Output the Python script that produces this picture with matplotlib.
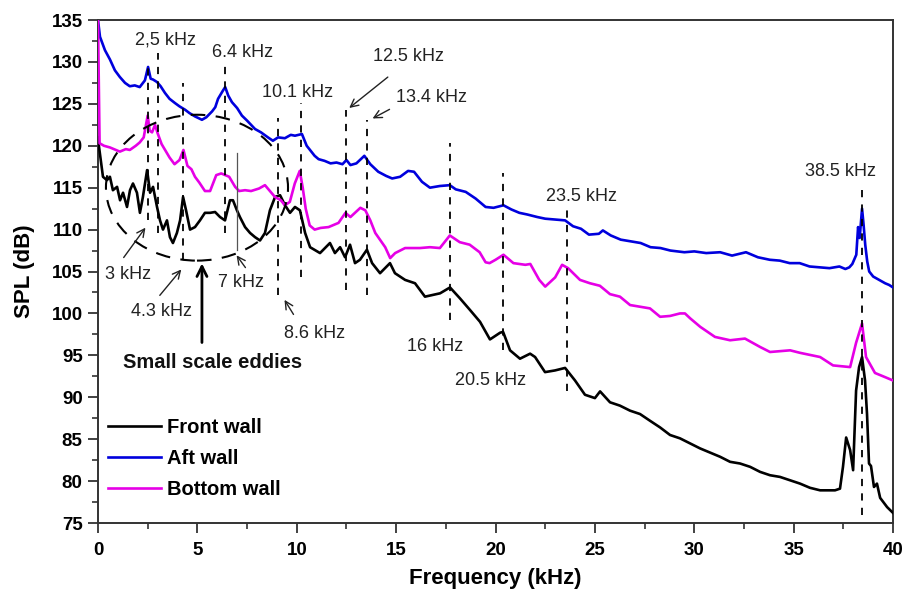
import matplotlib
matplotlib.use("Agg")
import matplotlib.pyplot as plt
from matplotlib.patches import Ellipse

plt.rcParams['font.family'] = ['Liberation Sans', 'DejaVu Sans']

# ---- spectra (frequency in kHz, SPL in dB) ----
aft_f = [0.0, 0.1, 0.35, 0.6, 0.85, 1.1, 1.36, 1.6, 1.85, 2.1, 2.36, 2.52, 2.65, 2.77, 2.97,
         3.15, 3.37, 3.6, 3.87, 4.1, 4.38, 4.6, 4.88, 5.23, 5.45, 5.74, 5.9, 6.04, 6.29, 6.4,
         6.55, 6.74, 7.0, 7.24, 7.5, 7.9, 8.2, 8.55, 8.8, 9.06, 9.4, 9.7, 9.91, 10.26, 10.5,
         10.9, 11.1, 11.4, 11.7, 12.0, 12.3, 12.5, 12.7, 13.0, 13.4, 13.7, 14.1, 14.5, 14.8,
         15.2, 15.6, 15.9, 16.3, 16.7, 17.2, 17.7, 18.0, 18.5, 19.0, 19.5, 19.9, 20.4, 20.8,
         21.2, 21.6, 22.1, 22.5, 23.0, 23.5, 23.9, 24.3, 24.7, 25.2, 25.4, 25.8, 26.3, 26.8,
         27.3, 27.8, 28.3, 28.8, 29.5, 30.0, 30.6, 31.3, 31.9, 32.6, 33.2, 33.8, 34.3, 34.8,
         35.3, 35.8, 36.3, 36.8, 37.3, 37.6, 37.8, 37.95, 38.15, 38.24, 38.32, 38.44, 38.52,
         38.6, 38.7, 38.8, 39.0, 39.3, 39.6, 39.8, 40.0]
aft_spl = [135.0, 133.0, 131.4, 130.3, 129.0, 128.2, 127.5, 127.1, 127.2, 127.0, 127.8, 129.4,
           128.0, 127.9, 127.6, 127.1, 126.3, 125.6, 125.1, 124.7, 124.3, 123.9, 123.5, 123.1,
           123.4, 124.1, 124.6, 125.6, 126.6, 127.0, 126.0, 125.2, 124.5, 123.6, 123.0, 122.0,
           121.6, 121.0, 120.6, 121.0, 120.9, 121.3, 121.2, 121.4, 120.0, 118.8, 118.4, 118.2,
           117.9, 118.0, 117.8, 118.3, 117.7, 117.9, 118.8, 117.8, 116.9, 116.4, 116.1, 116.3,
           117.0, 116.9, 115.7, 115.0, 115.2, 115.3, 114.8, 114.5, 113.7, 112.7, 112.6, 112.9,
           112.4, 112.0, 111.8, 111.5, 111.3, 111.2, 111.1, 110.4, 110.1, 109.4, 109.5, 109.9,
           109.3, 108.8, 108.6, 108.4, 107.9, 107.8, 107.5, 107.3, 107.4, 107.2, 107.3, 106.9,
           107.3, 106.7, 106.4, 106.3, 106.0, 106.0, 105.6, 105.5, 105.4, 105.6, 105.3, 105.5,
           105.9, 107.0, 110.3, 109.0, 112.5, 110.5, 108.2, 106.2, 105.0, 104.4, 104.0, 103.6,
           103.4, 103.1]

bottom_f = [0.0, 0.08, 0.3, 0.6, 0.9, 1.1, 1.4, 1.6, 1.9, 2.1, 2.3, 2.5, 2.6, 2.72, 2.87, 3.0,
            3.2, 3.4, 3.6, 3.85, 4.1, 4.3, 4.5, 4.7, 4.88, 5.1, 5.38, 5.64, 5.95, 6.2, 6.6, 6.9,
            7.1, 7.4, 7.7, 8.1, 8.4, 8.65, 8.9, 9.2, 9.4, 9.65, 9.9, 10.15, 10.3, 10.45, 10.65,
            10.9, 11.2, 11.6, 12.1, 12.45, 12.7, 13.2, 13.45, 13.7, 13.95, 14.45, 14.7, 14.95,
            15.45, 16.2, 16.7, 17.2, 17.7, 18.2, 18.7, 19.2, 19.5, 19.7, 20.0, 20.4, 20.9, 21.5,
            21.75, 22.2, 22.5, 23.0, 23.35, 23.65, 24.25, 24.75, 25.25, 25.76, 26.26, 26.77,
            27.27, 27.77, 28.28, 28.78, 29.28, 29.53, 29.8, 30.3, 31.04, 31.8, 32.55, 33.31,
            33.81, 34.82, 35.32, 36.33, 36.98, 37.84, 38.14, 38.44, 38.64, 39.09, 39.6, 40.0]
bottom_spl = [135.0, 120.3, 120.0, 119.8, 119.5, 119.3, 119.6, 119.5, 120.0, 120.4, 121.0, 123.6,
              121.8, 121.6, 122.5, 121.5, 120.2, 119.4, 118.6, 117.8, 118.3, 119.5, 117.6,
              117.2, 116.3, 115.6, 114.6, 114.6, 116.5, 116.7, 116.3, 115.1, 114.6, 114.7,
              114.6, 114.9, 115.3, 114.6, 113.9, 113.5, 112.9, 113.3, 115.5, 117.0, 115.0, 112.5,
              110.5, 110.0, 110.2, 110.3, 110.8, 112.0, 111.5, 112.6, 112.3, 111.1, 109.6,
              107.9, 106.6, 107.2, 107.8, 107.8, 107.9, 107.8, 109.3, 108.5, 108.2, 107.3,
              106.1, 106.0, 106.4, 107.0, 106.0, 105.8, 105.9, 104.0, 103.2, 104.3, 105.8,
              105.4, 104.0, 103.6, 103.3, 102.3, 102.0, 101.0, 100.8, 100.6, 99.6, 99.7, 100.0,
              100.0, 99.4, 98.4, 97.2, 96.8, 97.0, 96.0, 95.4, 95.6, 95.3, 94.8, 93.8, 93.6,
              96.5, 98.8, 94.8, 92.9, 92.4, 92.0]

front_f = [0.0, 0.05, 0.25, 0.45, 0.6, 0.75, 0.96, 1.11, 1.26, 1.46, 1.61, 1.76, 1.96, 2.11,
           2.26, 2.47, 2.62, 2.77, 2.97, 3.12, 3.27, 3.47, 3.62, 3.77, 3.97, 4.13, 4.28, 4.43,
           4.63, 4.88, 5.13, 5.38, 5.64, 5.89, 6.14, 6.39, 6.64, 6.79, 6.99, 7.14, 7.40, 7.65,
           7.90, 8.15, 8.40, 8.65, 8.91, 9.16, 9.41, 9.66, 9.91, 10.16, 10.42, 10.67, 11.17,
           11.67, 11.92, 12.18, 12.43, 12.68, 12.93, 13.18, 13.53, 13.79, 14.19, 14.69, 14.94,
           15.45, 15.95, 16.45, 17.21, 17.71, 18.21, 18.72, 19.22, 19.72, 20.23, 20.38, 20.73,
           21.23, 21.74, 21.99, 22.49, 22.99, 23.5, 24.0, 24.5, 25.0, 25.26, 25.76, 26.26,
           26.77, 27.27, 27.77, 28.28, 28.78, 29.28, 29.79, 30.29, 30.79, 31.30, 31.80, 32.30,
           32.81, 33.31, 33.81, 34.31, 34.82, 35.32, 35.82, 36.33, 37.08, 37.33, 37.48, 37.64,
           37.84, 37.99, 38.14, 38.29, 38.44, 38.59, 38.69, 38.79, 38.89, 39.04, 39.19, 39.35,
           39.70, 40.0]
front_spl = [121.0, 119.9, 116.3, 115.9, 116.3, 114.7, 115.1, 113.5, 114.4, 112.7, 114.7, 115.5,
             114.4, 112.0, 113.9, 117.1, 114.4, 115.1, 112.7, 111.1, 110.0, 111.1, 109.1, 108.4,
             109.6, 111.1, 113.9, 112.3, 110.0, 110.3, 111.1, 112.0, 112.0, 112.1, 111.5, 111.1,
             113.5, 113.5, 112.3, 111.5, 110.3, 109.6, 109.1, 108.7, 109.6, 112.3, 113.9, 114.1,
             112.9, 112.0, 112.7, 112.3, 109.6, 107.9, 107.2, 108.4, 107.2, 107.9, 106.7, 108.2,
             106.0, 106.4, 107.6, 106.0, 104.8, 106.0, 104.8, 104.0, 103.6, 102.0, 102.4, 103.1,
             101.8, 100.4, 99.0, 96.9, 97.7, 97.8, 95.6, 94.6, 95.2, 94.8, 93.0, 93.2, 93.5,
             92.0, 90.3, 89.9, 90.7, 89.4, 89.0, 88.4, 88.0, 87.2, 86.4, 85.5, 85.1, 84.5, 83.9,
             83.4, 82.9, 82.3, 82.1, 81.7, 81.1, 80.7, 80.5, 80.1, 79.7, 79.2, 78.9, 78.9, 79.1,
             81.7, 85.2, 83.7, 81.3, 90.8, 93.6, 94.8, 92.0, 88.0, 82.1, 81.8, 79.3, 79.7, 78.0,
             76.9, 76.2]

series_labels = ["Front wall", "Aft wall", "Bottom wall"]
series_colors = ["#000000", "#0000dd", "#e600e6"]

# ---- annotations ----
# dashed guides: (frequency, upper end, lower end)
guides = [(2.5, 129.9, 111.1), (3.0, 131.1, 109.6), (4.3, 127.5, 106.4), (6.4, 129.9, 109.6),
          (9.05, 123.3, 102.2), (10.2, 125.1, 104.3), (12.5, 124.3, 102.8), (13.55, 123.1, 102.2),
          (17.7, 120.3, 99.2), (20.4, 116.7, 95.6), (23.6, 112.3, 90.8), (38.45, 114.7, 75.9)]
labels_plain = [("2,5 kHz", 3.42, 132.6), ("6.4 kHz", 7.25, 131.1), ("10.1 kHz", 10.06, 126.3),
                ("12.5 kHz", 15.6, 130.6), ("13.4 kHz", 16.8, 125.7), ("23.5 kHz", 24.35, 113.9),
                ("38.5 kHz", 37.38, 116.9), ("3 kHz", 1.51, 104.6), ("4.3 kHz", 3.22, 100.2),
                ("7 kHz", 7.2, 103.7), ("8.6 kHz", 10.92, 97.6), ("16 kHz", 16.96, 96.0),
                ("20.5 kHz", 19.77, 92.0)]
# arrows: (tail f, tail SPL, head f, head SPL)
arrows = [(14.69, 128.4, 12.53, 124.3), (14.79, 124.5, 13.69, 123.1),
          (1.21, 106.4, 2.47, 110.5), (3.02, 101.9, 4.28, 105.5),
          (7.5, 105.2, 6.89, 107.2), (9.91, 99.6, 9.31, 101.9)]

fig = plt.figure(figsize=(9.04, 5.94), dpi=100)
ax = fig.add_axes([0.1084, 0.1195, 0.8795, 0.8468])

for f, s, lab, col in [(front_f, front_spl, series_labels[0], series_colors[0]),
                       (aft_f, aft_spl, series_labels[1], series_colors[1]),
                       (bottom_f, bottom_spl, series_labels[2], series_colors[2])]:
    ax.plot(f, s, color=col, lw=1.9, label=lab, zorder=3)

for x, top, bot in guides:
    ax.plot([x, x], [bot, top], color="black", lw=1.3, ls=(0, (4, 4)), zorder=4)
# thin marker at 7 kHz
ax.plot([7.0, 7.0], [107.6, 119.1], color="#555555", lw=0.9, zorder=4)

ell = Ellipse((4.98, 115.0), 9.16, 17.4, fill=False, ec="black", lw=1.5,
              ls=(0, (7, 5)), zorder=4)
ax.add_patch(ell)

for txt, x, y in labels_plain:
    ax.text(x, y, txt, ha="center", va="center", fontsize=13, color="#222222", zorder=5)

for tx, ty, hx, hy in arrows:
    ax.annotate("", xy=(hx, hy), xytext=(tx, ty),
                arrowprops=dict(arrowstyle="->", color="#222222", lw=1.0,
                                mutation_scale=14), zorder=5)
ax.annotate("", xy=(5.23, 106.3), xytext=(5.23, 96.2),
            arrowprops=dict(arrowstyle="->", color="black", lw=2.0, mutation_scale=18),
            zorder=5)
ax.text(5.74, 94.1, "Small scale eddies", ha="center", va="center",
        fontsize=14.5, fontweight="bold", color="#111111")

ax.set_xlim(0, 40)
ax.set_ylim(75, 135)
ax.set_xticks(range(0, 41, 5))
ax.set_yticks(range(75, 136, 5))
ax.set_xticks([x + 2.5 for x in range(0, 40, 5)], minor=True)
ax.set_yticks([y + 2.5 for y in range(75, 135, 5)], minor=True)
ax.tick_params(which="major", direction="out", length=7, width=1.3, color="#333333",
               labelsize=13.5, pad=4)
ax.tick_params(axis="x", which="major", pad=7)
ax.tick_params(which="minor", direction="out", length=4, width=1.2, color="#333333")
for lbl in ax.get_xticklabels() + ax.get_yticklabels():
    lbl.set_fontweight("bold")
for sp in ax.spines.values():
    sp.set_linewidth(1.4)
    sp.set_color("#333333")

ax.set_xlabel("Frequency (kHz)", fontsize=16, fontweight="bold", labelpad=6)
ax.set_ylabel("SPL (dB)", fontsize=16, fontweight="bold", labelpad=12)

leg = ax.legend(loc="upper left", bbox_to_anchor=(0.012, 0.209), frameon=False,
                prop=dict(size=14.5, weight="bold"), handlelength=2.65,
                handletextpad=0.3, labelspacing=0.6, borderpad=0, borderaxespad=0)

fig.savefig("out.png", dpi=100)
